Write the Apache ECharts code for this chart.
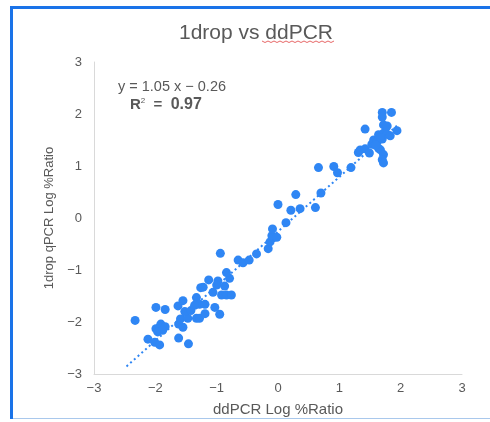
<!DOCTYPE html>
<html>
<head>
<meta charset="utf-8">
<script src="https://cdn.jsdelivr.net/npm/echarts@6/dist/echarts.min.js"></script>
<style>
html,body{margin:0;padding:0;background:#fff;}
#main{width:490px;height:422px;}
</style>
</head>
<body>
<div id="main"></div>
<script>
// ddPCR (x) vs 1drop qPCR (y), log %ratio
var ddpcr = [
  -2.33, -1.99, -1.84, -1.93, -1.99, -1.91, -1.84, -1.96, -1.88, -2.12, -2.01, -1.93,
  -1.62, -1.46, -1.62, -1.55, -1.59, -1.47, -1.33, -1.28, -1.19, -1.63, -1.55, -1.52,
  -1.33, -1.28, -1.19, -1.26, -1.22, -1.13, -1.06, -1.03, -0.95, -0.98, -1.00, -0.87,
  -0.92, -0.84, -0.76, -0.79, -0.84, -0.94, -0.65, -0.57, -0.47, -0.35, -0.16, -0.13,
  -0.08, -0.10, -0.02, -0.09, 0.13, 0.00, 0.21, 0.36, 0.29, 0.61, 0.70, 0.66,
  0.91, 0.97, 1.19, 1.31, 1.34, 1.42, 1.49, 1.53, 1.56, 1.62, 1.70, 1.64,
  1.72, 1.78, 1.83, 1.64, 1.67, 1.72, 1.70, 1.72, 1.42, 1.72, 1.78, 1.94,
  1.70, 1.70, 1.85, 1.67, 1.59, -1.42, -1.36
];
var qpcr = [
  -1.97, -1.72, -1.76, -2.10, -2.13, -2.04, -2.09, -2.19, -2.16, -2.33, -2.39, -2.44,
  -2.31, -2.42, -2.04, -2.10, -1.94, -1.93, -1.93, -1.93, -1.84, -1.69, -1.59, -1.80,
  -1.53, -1.66, -1.66, -1.34, -1.33, -1.19, -1.43, -1.72, -1.85, -1.21, -1.29, -1.31,
  -1.48, -1.48, -1.48, -1.16, -1.05, -0.68, -0.81, -0.86, -0.81, -0.69, -0.59, -0.46,
  -0.38, -0.34, -0.37, -0.21, -0.09, 0.26, 0.15, 0.18, 0.45, 0.20, 0.48, 0.97,
  0.99, 0.87, 0.97, 1.26, 1.31, 1.33, 1.25, 1.42, 1.50, 1.47, 1.52, 1.60,
  1.63, 1.61, 1.58, 1.34, 1.31, 1.22, 1.12, 1.06, 1.71, 1.79, 1.77, 1.68,
  2.03, 1.94, 2.03, 1.55, 1.40, -1.78, -1.68
];
var ticks = [-3, -2, -1, 0, 1, 2, 3];
var slope = 1.05, intercept = -0.26;
var trendX = [-2.47, 1.94];

var points = ddpcr.map(function (x, i) { return [x, qpcr[i]]; });
var trend = trendX.map(function (x) { return [x, slope * x + intercept]; });

var blue = '#2f86f4';
var grey = '#595959';
var font = "'Liberation Sans', Arial, sans-serif";
function minus(v) { return String(v).replace('-', '\u2212'); }

var myChart = echarts.init(document.getElementById('main'));
var option = {
  backgroundColor: '#fff',
  animation: false,
  textStyle: { fontFamily: font },
  title: {
    text: '1drop vs ddPCR',
    left: 251, top: 18, textAlign: 'center',
    textStyle: { color: grey, fontSize: 21, fontWeight: 'normal', fontFamily: font }
  },
  grid: { left: 94, right: 28, top: 62, bottom: 47 },
  xAxis: {
    type: 'value', min: ticks[0], max: ticks[ticks.length - 1], interval: 1,
    name: 'ddPCR Log %Ratio', nameLocation: 'middle', nameGap: 28,
    nameTextStyle: { color: grey, fontSize: 15 },
    axisLine: { show: true, onZero: false, lineStyle: { color: '#d9d9d9', width: 1 } },
    axisTick: { show: false },
    splitLine: { show: false },
    axisLabel: { color: grey, fontSize: 13, margin: 8, formatter: minus }
  },
  yAxis: {
    type: 'value', min: ticks[0], max: ticks[ticks.length - 1], interval: 1,
    name: '1drop qPCR Log %Ratio', nameLocation: 'middle', nameGap: 36,
    nameTextStyle: { color: grey, fontSize: 13 },
    axisLine: { show: true, onZero: false, lineStyle: { color: '#d9d9d9', width: 1 } },
    axisTick: { show: false },
    splitLine: { show: false },
    axisLabel: { color: grey, fontSize: 13, margin: 12, formatter: minus }
  },
  series: [
    {
      type: 'line',
      data: trend,
      symbol: 'none',
      silent: true,
      lineStyle: { color: blue, width: 2, type: [2, 3] },
      z: 1
    },
    {
      type: 'scatter',
      data: points,
      symbolSize: 9,
      itemStyle: { color: blue, opacity: 1 },
      z: 2
    }
  ],
  graphic: [
    // blue frame
    { type: 'rect', shape: { x: 10, y: 6, width: 3, height: 413 }, style: { fill: '#1a73e8' } },
    { type: 'rect', shape: { x: 10, y: 6, width: 480, height: 3 }, style: { fill: '#1a73e8' } },
    { type: 'rect', shape: { x: 13, y: 418, width: 477, height: 1 }, style: { fill: '#a9c8ec' } },
    // spell-check squiggle under ddPCR
    {
      type: 'polyline',
      shape: { points: (function () { var p = []; for (var i = 0; i <= 24; i++) { p.push([262 + i * 3, 41 + (i % 2 ? 1.5 : 0)]); } return p; })() },
      style: { stroke: '#e04040', lineWidth: 0.8, fill: null }
    },
    // equation
    {
      type: 'text', left: 118, top: 79,
      style: { text: 'y = 1.05 x \u2212 0.26', fill: grey, font: '14.5px ' + font }
    },
    {
      type: 'text', left: 130, top: 97,
      style: {
        text: '{a|R}{s|2}{a|  =  }{b|0.97}',
        rich: {
          a: { fill: grey, fontSize: 15, fontWeight: 'bold', fontFamily: font },
          s: { fill: grey, fontSize: 8, fontFamily: font, verticalAlign: 'top', padding: [0, 0, 8, 0] },
          b: { fill: grey, fontSize: 16, fontWeight: 'bold', fontFamily: font }
        }
      }
    }
  ]
};
myChart.setOption(option);
</script>
</body>
</html>
